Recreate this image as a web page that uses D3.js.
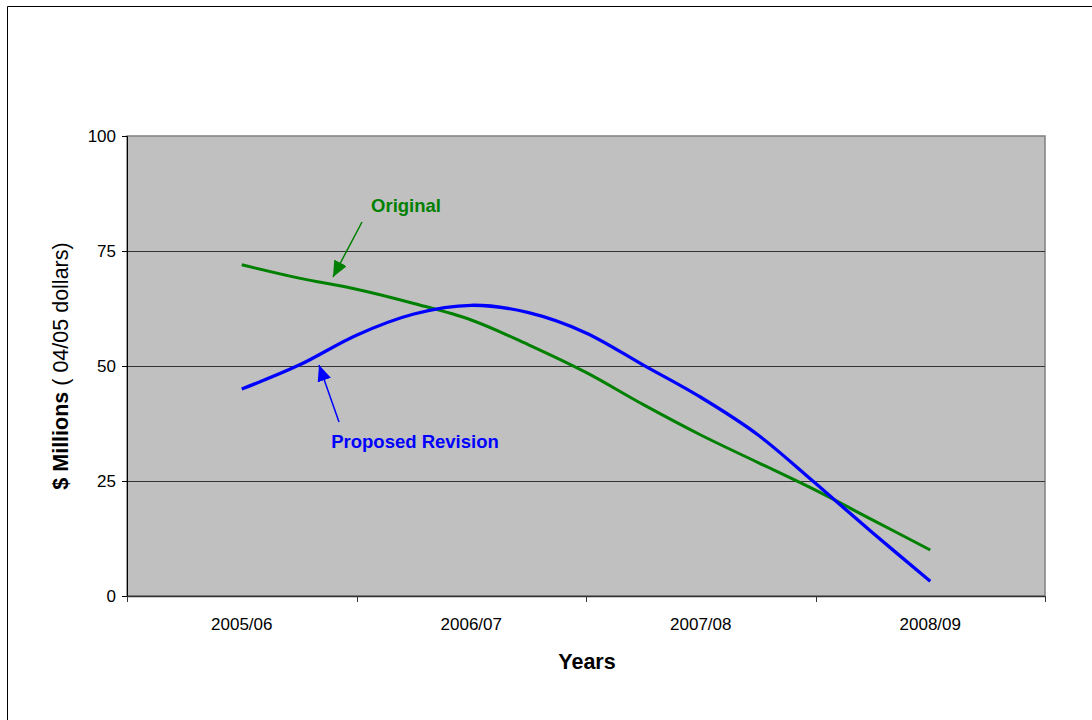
<!DOCTYPE html>
<html>
<head>
<meta charset="utf-8">
<script src="https://cdn.jsdelivr.net/npm/d3@7"></script>
<style>
  html, body { margin: 0; padding: 0; background: #fff; }
  svg { display: block; font-family: Arial, "Liberation Sans", sans-serif; }
</style>
</head>
<body>
<svg id="chart" width="1092" height="720"></svg>
<script>
// Fiscal years shown on the category axis
const years = ["2005/06", "2006/07", "2007/08", "2008/09"];
// Quarterly steps between the year centres (0..12)
const steps = d3.range(13);
// $ millions, quarterly
const original = [72.0, 69.1, 66.7, 63.6, 60.0, 54.6, 48.6, 41.6, 35.0, 29.0, 23.0, 16.5, 10.0];
const proposed = [45.0, 50.2, 56.7, 61.3, 63.2, 61.6, 57.2, 50.2, 43.2, 35.0, 24.5, 13.7, 3.2];
const yTicks = [0, 25, 50, 75, 100];

const svg = d3.select("#chart");
const plot = { left: 127, top: 136, right: 1045, bottom: 596 };

// Outer chart frame (left/top edges visible)
svg.append("path")
  .attr("d", `M7.5,720 V6.5 H1092`)
  .attr("fill", "none").attr("stroke", "#000").attr("stroke-width", 1);

const xBand = d3.scaleBand().domain(years).range([plot.left, plot.right]);
const xPos = d3.scaleLinear().domain([0, 12])
  .range([xBand(years[0]) + xBand.bandwidth() / 2, xBand(years[3]) + xBand.bandwidth() / 2]);
const y = d3.scaleLinear().domain([0, 100]).range([plot.bottom, plot.top]);

// Plot area
svg.append("rect")
  .attr("x", plot.left).attr("y", plot.top)
  .attr("width", plot.right - plot.left).attr("height", plot.bottom - plot.top)
  .attr("fill", "#C0C0C0").attr("stroke", "#808080").attr("stroke-width", 1.5);

// Gridlines
svg.append("g").selectAll("line")
  .data(yTicks.filter(d => d > 0 && d < 100)).join("line")
  .attr("x1", plot.left).attr("x2", plot.right)
  .attr("y1", d => Math.round(y(d)) + 0.5).attr("y2", d => Math.round(y(d)) + 0.5)
  .attr("stroke", "#333").attr("stroke-width", 1);

// Y axis
const yAxis = svg.append("g")
  .attr("transform", `translate(${plot.left},0)`)
  .call(d3.axisLeft(y).tickValues(yTicks).tickSize(5).tickPadding(6));
yAxis.select(".domain").attr("stroke", "#000");
yAxis.selectAll(".tick line").attr("stroke", "#000");
yAxis.selectAll("text").attr("font-size", 17).attr("fill", "#000")
  .attr("font-family", "Arial, 'Liberation Sans', sans-serif");

// X axis with ticks at band boundaries
const xAxisG = svg.append("g").attr("transform", `translate(0,${plot.bottom})`);
xAxisG.append("line")
  .attr("x1", plot.left).attr("x2", plot.right)
  .attr("y1", 0.5).attr("y2", 0.5).attr("stroke", "#333").attr("stroke-width", 1.5);
const bounds = years.map(d => xBand(d)).concat([plot.right]);
xAxisG.selectAll("line.tk").data(bounds).join("line").attr("class", "tk")
  .attr("x1", d => Math.round(d) + 0.5).attr("x2", d => Math.round(d) + 0.5)
  .attr("y1", 0).attr("y2", 6).attr("stroke", "#333");
xAxisG.selectAll("text").data(years).join("text")
  .attr("x", d => xBand(d) + xBand.bandwidth() / 2)
  .attr("y", 34)
  .attr("text-anchor", "middle")
  .attr("font-size", 17).attr("fill", "#000")
  .text(d => d);

// Axis titles
svg.append("text")
  .attr("x", 587).attr("y", 669)
  .attr("text-anchor", "middle")
  .attr("font-size", 21.5).attr("font-weight", "bold")
  .text("Years");

const yTitle = svg.append("text")
  .attr("transform", `translate(68,366) rotate(-90)`)
  .attr("text-anchor", "middle")
  .attr("font-size", 21.5);
yTitle.append("tspan").attr("font-weight", "bold").text("$ Millions");
yTitle.append("tspan").text(" ( 04/05 dollars)");

// Series lines (smoothed)
const line = d3.line()
  .x((d, i) => xPos(steps[i])).y(d => y(d))
  .curve(d3.curveCatmullRom.alpha(0));
svg.append("path").datum(original)
  .attr("d", line).attr("fill", "none")
  .attr("stroke", "#008000").attr("stroke-width", 3).attr("stroke-linejoin", "round");
svg.append("path").datum(proposed)
  .attr("d", line).attr("fill", "none")
  .attr("stroke", "#0000FF").attr("stroke-width", 3.3).attr("stroke-linejoin", "round");

// Annotation arrows
const defs = svg.append("defs");
function arrowHead(id, color) {
  defs.append("marker")
    .attr("id", id).attr("viewBox", "0 0 16 14")
    .attr("refX", 16).attr("refY", 7)
    .attr("markerWidth", 16).attr("markerHeight", 14)
    .attr("markerUnits", "userSpaceOnUse")
    .attr("orient", "auto")
    .append("path").attr("d", "M0,0 L16,7 L0,14 Z").attr("fill", color);
}
arrowHead("arrG", "#008000");
arrowHead("arrB", "#0000FF");

svg.append("line")
  .attr("x1", 362).attr("y1", 222).attr("x2", 333).attr("y2", 277)
  .attr("stroke", "#008000").attr("stroke-width", 1.5).attr("marker-end", "url(#arrG)");
svg.append("line")
  .attr("x1", 339).attr("y1", 422).attr("x2", 319).attr("y2", 365)
  .attr("stroke", "#0000FF").attr("stroke-width", 1.5).attr("marker-end", "url(#arrB)");

svg.append("text")
  .attr("x", 406).attr("y", 212).attr("text-anchor", "middle")
  .attr("font-size", 18.5).attr("font-weight", "bold").attr("fill", "#008000")
  .text("Original");
svg.append("text")
  .attr("x", 415).attr("y", 448).attr("text-anchor", "middle")
  .attr("font-size", 18.5).attr("font-weight", "bold").attr("fill", "#0000FF")
  .text("Proposed Revision");
</script>
</body>
</html>
